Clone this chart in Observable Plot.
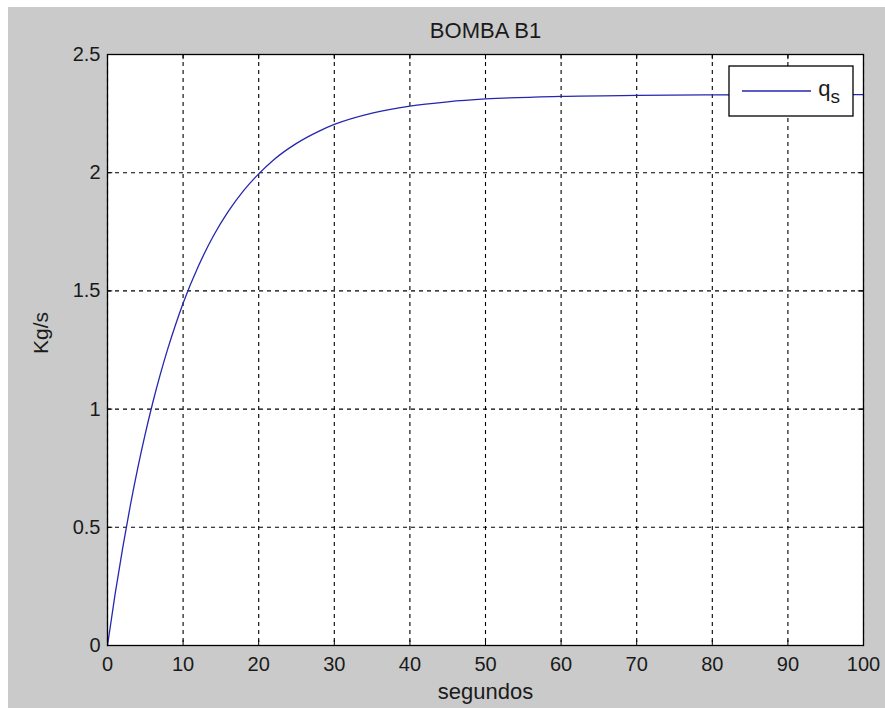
<!DOCTYPE html>
<html>
<head>
<meta charset="utf-8">
<script src="https://cdn.jsdelivr.net/npm/d3@7"></script>
<script src="https://cdn.jsdelivr.net/npm/@observablehq/plot@0.6"></script>
<style>
  html, body { margin: 0; padding: 0; background: #ffffff; }
  #chart svg { display: block; margin-left: 8px; margin-top: 7px; }
</style>
</head>
<body>
<div id="chart"></div>
<script>
// time (s) and flow (Kg/s)
const t = [0, 1, 2, 3, 4, 5, 6, 7, 8, 9, 10, 12, 14, 16, 18, 20, 22, 25, 28, 30, 35, 40, 45, 50, 60, 70, 80, 90, 100];
const q = [0, 0.216, 0.411, 0.589, 0.750, 0.896, 1.029, 1.149, 1.258, 1.357, 1.448, 1.603, 1.732, 1.837, 1.924, 1.995, 2.055, 2.124, 2.176, 2.204, 2.252, 2.282, 2.300, 2.312, 2.323, 2.327, 2.329, 2.330, 2.330];
const xTicks = [0, 10, 20, 30, 40, 50, 60, 70, 80, 90, 100];
const yTicks = [0, 0.5, 1, 1.5, 2, 2.5];
const yTickLabels = ["0", "0.5", "1", "1.5", "2", "2.5"];
const titleText = "BOMBA B1";
const xLabel = "segundos";
const yLabel = "Kg/s";
const seriesName = "q";
const seriesSub = "s";

const data = t.map((d, i) => ({t: d, q: q[i]}));
const font = "Arial, 'Liberation Sans', sans-serif";
const lineColor = "#2626b0";

const svg = Plot.plot({
  width: 877,
  height: 701,
  marginLeft: 99,
  marginTop: 47,
  marginRight: 22,
  marginBottom: 63,
  style: {background: "#cacaca", fontFamily: font, fontSize: "20px", color: "#1a1a1a"},
  x: {domain: [0, 100]},
  y: {domain: [0, 2.5]},
  marks: [
    Plot.frame({fill: "white"}),
    Plot.gridX(xTicks, {stroke: "black", strokeOpacity: 1, strokeWidth: 1.1, strokeDasharray: "4,4"}),
    Plot.gridY(yTicks, {stroke: "black", strokeOpacity: 1, strokeWidth: 1.1, strokeDasharray: "4,4"}),
    Plot.ruleX(xTicks, {y1: 0, y2: 0.022, stroke: "black"}),
    Plot.ruleX(xTicks, {y1: 2.5, y2: 2.478, stroke: "black"}),
    Plot.ruleY(yTicks, {x1: 0, x2: 0.7, stroke: "black"}),
    Plot.ruleY(yTicks, {x1: 100, x2: 99.3, stroke: "black"}),
    Plot.line(data, {x: "t", y: "q", stroke: lineColor, strokeWidth: 1.3, curve: "monotone-x"}),
    Plot.frame({stroke: "black", strokeWidth: 1.3}),
    Plot.axisX(xTicks, {tickSize: 0, tickPadding: 11, label: null, fontSize: 20}),
    Plot.axisY(yTicks, {tickSize: 0, tickPadding: 7, label: null, fontSize: 20, tickFormat: (d) => yTickLabels[yTicks.indexOf(d)]}),
    Plot.text([titleText], {frameAnchor: "top", dy: -24, fontSize: 22, lineAnchor: "middle", fill: "#1a1a1a"}),
    Plot.text([xLabel], {frameAnchor: "bottom", dy: 46, fontSize: 22, lineAnchor: "middle", fill: "#1a1a1a"}),
    Plot.text([yLabel], {frameAnchor: "left", dx: -66, dy: 4, rotate: -90, fontSize: 21, lineAnchor: "middle", fill: "#1a1a1a"})
  ]
});

document.getElementById("chart").appendChild(svg);

// legend box (top right, inside the axes)
const s = d3.select(svg);
const g = s.append("g").attr("class", "legend");
g.append("rect").attr("x", 721).attr("y", 59).attr("width", 124).attr("height", 50)
  .attr("fill", "white").attr("stroke", "black").attr("stroke-width", 1.3);
g.append("line").attr("x1", 734).attr("x2", 803).attr("y1", 84).attr("y2", 84)
  .attr("stroke", lineColor).attr("stroke-width", 1.3);
const txt = g.append("text").attr("x", 821).attr("y", 89)
  .attr("font-family", font).attr("font-size", 22).attr("fill", "#1a1a1a");
txt.append("tspan").text(seriesName);
txt.append("tspan").attr("dy", 7).attr("font-size", 19).text(seriesSub);
</script>
</body>
</html>
